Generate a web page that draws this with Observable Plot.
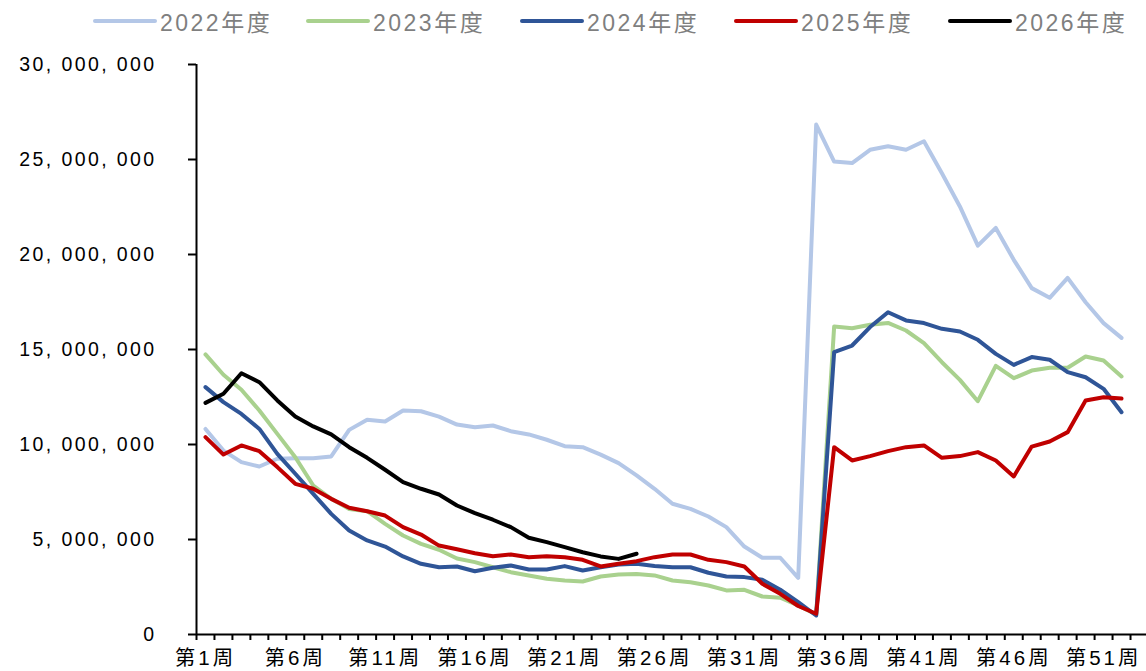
<!DOCTYPE html>
<html>
<head>
<meta charset="utf-8">
<script src="https://cdn.jsdelivr.net/npm/d3@7"></script>
<script src="https://cdn.jsdelivr.net/npm/@observablehq/plot@0.6"></script>
<style>
  html, body { margin: 0; padding: 0; background: #fff; }
  #wrap { width: 1146px; height: 671px; position: relative; overflow: hidden; }
  #legend { position: relative; width: 1146px; height: 40px; }
  .item { position: absolute; top: 0; height: 42px; display: flex; align-items: center; }
  .swatch { width: 64px; height: 4px; border-radius: 2px; margin-right: 3px; }
  .lab { font-family: "Liberation Sans", "Noto Sans CJK SC", sans-serif; font-size: 23px; color: #7f7f7f; letter-spacing: 2.5px; }
  svg text { fill: #000; }
  .yax text { letter-spacing: 2.4px; }
  .xlab text { letter-spacing: 3px; }
</style>
</head>
<body>
<div id="wrap">
  <div id="legend"></div>
  <div id="chart"></div>
</div>
<script>
const seriesNames = ["2022年度", "2023年度", "2024年度", "2025年度", "2026年度"];
const seriesColors = ["#b4c7e7", "#a9d18e", "#2f5597", "#c00000", "#000000"];
const weeks = d3.range(1, 53);
const labelWeeks = [1, 6, 11, 16, 21, 26, 31, 36, 41, 46, 51];
const yTicks = [0, 5000000, 10000000, 15000000, 20000000, 25000000, 30000000];

const v2022 = [10820000, 9680000, 9070000, 8840000, 9250000, 9280000, 9280000, 9370000, 10770000, 11300000,
  11210000, 11790000, 11750000, 11470000, 11050000, 10910000, 11000000, 10700000, 10530000, 10250000,
  9910000, 9860000, 9470000, 9020000, 8370000, 7670000, 6880000, 6610000, 6210000, 5650000,
  4630000, 4040000, 4040000, 2980000, 26840000, 24890000, 24810000, 25510000, 25700000, 25510000,
  25960000, 24280000, 22530000, 20470000, 21400000, 19720000, 18230000, 17720000, 18770000, 17490000,
  16390000, 15610000];
const v2023 = [14740000, 13670000, 12880000, 11790000, 10560000, 9330000, 7840000, 7140000, 6610000, 6490000,
  5820000, 5210000, 4770000, 4460000, 4000000, 3810000, 3540000, 3280000, 3110000, 2930000,
  2840000, 2790000, 3050000, 3160000, 3190000, 3110000, 2840000, 2750000, 2580000, 2320000,
  2350000, 2000000, 1940000, 1530000, 1050000, 16210000, 16120000, 16300000, 16400000, 16000000,
  15330000, 14330000, 13400000, 12280000, 14140000, 13490000, 13890000, 14040000, 14040000, 14630000,
  14420000, 13580000];
const v2024 = [13020000, 12230000, 11610000, 10820000, 9510000, 8460000, 7400000, 6350000, 5470000, 4950000,
  4630000, 4110000, 3720000, 3540000, 3580000, 3330000, 3510000, 3630000, 3420000, 3420000,
  3600000, 3370000, 3540000, 3680000, 3720000, 3600000, 3540000, 3540000, 3250000, 3050000,
  3020000, 2880000, 2360000, 1700000, 1000000, 14860000, 15210000, 16180000, 16960000, 16530000,
  16390000, 16090000, 15950000, 15510000, 14770000, 14190000, 14600000, 14460000, 13810000, 13540000,
  12930000, 11700000];
const v2025 = [10390000, 9470000, 9950000, 9650000, 8810000, 7930000, 7670000, 7140000, 6670000, 6490000,
  6260000, 5650000, 5260000, 4680000, 4490000, 4280000, 4120000, 4210000, 4070000, 4120000,
  4070000, 3930000, 3580000, 3720000, 3860000, 4070000, 4210000, 4210000, 3930000, 3810000,
  3580000, 2670000, 2140000, 1500000, 1090000, 9860000, 9160000, 9390000, 9650000, 9860000,
  9950000, 9300000, 9390000, 9600000, 9160000, 8320000, 9890000, 10160000, 10650000, 12320000,
  12490000, 12420000];
const v2026 = [12190000, 12670000, 13750000, 13280000, 12320000, 11470000, 10950000, 10530000, 9860000, 9300000,
  8670000, 8020000, 7670000, 7370000, 6790000, 6390000, 6040000, 5650000, 5090000, 4860000,
  4600000, 4330000, 4110000, 3980000, 4250000];

const allValues = [v2022, v2023, v2024, v2025, v2026];
const rows = [];
allValues.forEach((vals, i) => {
  vals.forEach((v, j) => rows.push({series: seriesNames[i], week: weeks[j], value: v}));
});

// legend
const legendLefts = [93, 306, 520, 734, 948];
const legend = document.getElementById("legend");
seriesNames.forEach((name, i) => {
  const it = document.createElement("div");
  it.className = "item";
  it.style.left = legendLefts[i] + "px";
  const sw = document.createElement("div");
  sw.className = "swatch";
  sw.style.background = seriesColors[i];
  const lb = document.createElement("span");
  lb.className = "lab";
  lb.textContent = name;
  it.appendChild(sw); it.appendChild(lb);
  legend.appendChild(it);
});

const fmtY = d => d3.format(",")(d).replace(/,/g, ", ");
const fontMain = "'Liberation Sans', 'Noto Sans CJK SC', sans-serif";

const chart = Plot.plot({
  width: 1146,
  height: 631,
  marginLeft: 196,
  marginRight: 0,
  marginTop: 24,
  marginBottom: 37,
  style: {background: "white", color: "black", fontFamily: fontMain, overflow: "visible"},
  x: {type: "linear", domain: [0.5, 53.39]},
  y: {domain: [0, 30000000]},
  color: {domain: seriesNames, range: seriesColors},
  marks: [
    Plot.axisY({ticks: yTicks, tickSize: 8, tickPadding: 32, tickFormat: fmtY, fontSize: 19.5,
      strokeWidth: 2, label: null, className: "yax"}),
    Plot.axisX({ticks: d3.range(0.5, 53, 1), tickSize: 6, tickFormat: () => "", strokeWidth: 2, label: null}),
    Plot.axisX({ticks: labelWeeks, tickSize: 0, tickPadding: 16, tickFormat: d => `第${d}周`, fontSize: 20.5,
      label: null, className: "xlab"}),
    Plot.ruleX([0.5], {y1: 0, y2: 30000000, stroke: "black", strokeWidth: 2}),
    Plot.ruleY([0], {x1: 0.5, x2: 53.39, stroke: "black", strokeWidth: 2}),
    Plot.line(rows, {x: "week", y: "value", z: "series", stroke: "series", strokeWidth: 4,
      strokeLinejoin: "round", strokeLinecap: "round"})
  ]
});
document.getElementById("chart").appendChild(chart);
</script>
</body>
</html>
